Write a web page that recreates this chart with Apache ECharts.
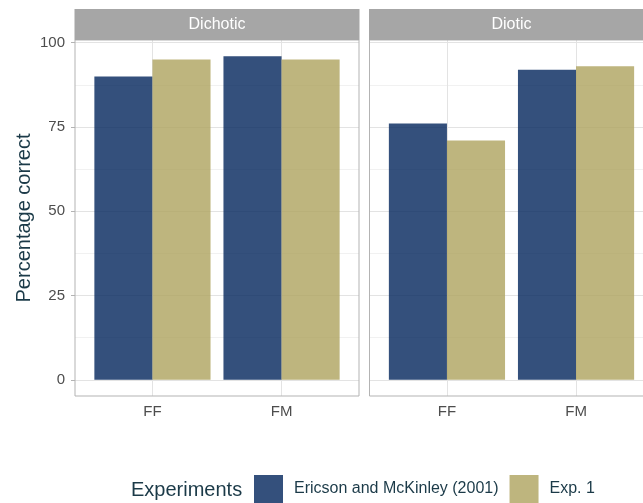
<!DOCTYPE html>
<html>
<head>
<meta charset="utf-8">
<script src="https://cdn.jsdelivr.net/npm/echarts@6/dist/echarts.min.js"></script>
<style>
html,body{margin:0;padding:0;background:#fff;}
#chart{width:643px;height:503px;}
</style>
</head>
<body>
<div id="chart"></div>
<script>
// ---- data ----
const facets = ['Dichotic', 'Diotic'];
const categories = ['FF', 'FM'];
const seriesNames = ['Ericson and McKinley (2001)', 'Exp. 1'];
const ericsonDichotic = [90, 96];
const exp1Dichotic = [95, 95];
const ericsonDiotic = [76, 92];
const exp1Diotic = [71, 93];
const yTicks = [0, 25, 50, 75, 100];

// ---- styling ----
const FONT = '"Liberation Sans", Arial, sans-serif';
const navy = 'rgba(1,36,91,0.8)';
const tan = 'rgba(174,162,94,0.8)';
const gridMajor = '#E3E3E3';
const gridMinor = '#F1F1F1';
const borderCol = '#B3B3B3';
const stripCol = '#A6A6A6';
const axisText = '#4D4D4D';
const titleCol = '#1B3A48';

const panelTop = 40, panelBottom = 396, panelW = 284;
const panelLefts = [75, 369.5];
const unit = panelW / 2.2;

// y range with ggplot-like 5% expansion
const dataMax = Math.max(...ericsonDichotic, ...exp1Dichotic, ...ericsonDiotic, ...exp1Diotic);
const yMin = -0.05 * dataMax, yMax = dataMax * 1.05;
const pxPerUnit = (panelBottom - panelTop) / (yMax - yMin);
const yTop = panelTop + (yMax - yTicks[yTicks.length - 1]) * pxPerUnit;
const yBottom = panelBottom - (yTicks[0] - yMin) * pxPerUnit;

const chart = echarts.init(document.getElementById('chart'), null, {renderer: 'canvas'});

const grids = [], xAxes = [], yAxes = [], series = [];
// frame grids (horizontal gridlines + y axis)
panelLefts.forEach((pl, i) => {
  grids.push({left: pl, width: panelW, top: yTop, height: yBottom - yTop});
  xAxes.push({type: 'value', gridIndex: i, show: false, min: 0, max: 1});
  yAxes.push({
    type: 'value', gridIndex: i, min: yTicks[0], max: yTicks[yTicks.length - 1], interval: 25,
    axisLine: {show: false},
    axisTick: {show: i === 0, length: 4, lineStyle: {color: borderCol, width: 1}},
    axisLabel: {show: i === 0, margin: 10, fontSize: 15, color: axisText, fontFamily: FONT},
    splitLine: {show: true, lineStyle: {color: gridMajor, width: 1}},
    minorTick: {show: false, splitNumber: 2},
    minorSplitLine: {show: true, lineStyle: {color: gridMinor, width: 1}}
  });
});
// data grids (full panel height, expanded y range)
const dataSets = [[ericsonDichotic, exp1Dichotic], [ericsonDiotic, exp1Diotic]];
panelLefts.forEach((pl, i) => {
  const gi = 2 + i;
  grids.push({left: pl + 0.1 * unit, width: 2 * unit, top: panelTop, height: panelBottom - panelTop});
  xAxes.push({
    type: 'category', gridIndex: gi, data: categories,
    axisLine: {show: false},
    axisTick: {show: true, alignWithLabel: true, length: 4, lineStyle: {color: borderCol}},
    axisLabel: {margin: 8, fontSize: 15, color: axisText, fontFamily: FONT},
    splitLine: {show: false}
  });
  yAxes.push({type: 'value', gridIndex: gi, min: yMin, max: yMax, show: false, splitLine: {show: false}});
  series.push({
    type: 'line', xAxisIndex: gi, yAxisIndex: gi, data: [null, null], z: 1, silent: true,
    showSymbol: false,
    markLine: {
      silent: true, symbol: 'none', label: {show: false}, z: 1,
      lineStyle: {color: gridMajor, width: 1, type: 'solid'},
      emphasis: {disabled: true},
      data: categories.map(c => ({xAxis: c}))
    }
  });
  dataSets[i].forEach((vals, k) => {
    series.push({
      name: seriesNames[k], type: 'bar', xAxisIndex: gi, yAxisIndex: gi, data: vals,
      barGap: '0%', barCategoryGap: '10%', z: 3,
      itemStyle: {color: k === 0 ? navy : tan},
      emphasis: {disabled: true}
    });
  });
});

const graphic = [];
panelLefts.forEach((pl, i) => {
  graphic.push({type: 'rect', z: 20, silent: true,
    shape: {x: pl, y: panelTop, width: panelW, height: panelBottom - panelTop},
    style: {fill: 'none', stroke: borderCol, lineWidth: 1}});
  graphic.push({type: 'rect', z: 20, silent: true,
    shape: {x: pl - 0.5, y: 9, width: panelW + 1, height: panelTop - 9},
    style: {fill: stripCol}});
  graphic.push({type: 'text', z: 21, silent: true, x: pl + panelW / 2, y: 25,
    style: {text: facets[i], fill: '#FFFFFF', font: '16px ' + FONT, align: 'center', verticalAlign: 'middle'}});
});
graphic.push({type: 'text', silent: true, x: 24, y: 218, rotation: Math.PI / 2,
  style: {text: 'Percentage correct', fill: titleCol, font: '20px ' + FONT, align: 'center', verticalAlign: 'middle'}});
graphic.push({type: 'text', silent: true, x: 131, y: 490,
  style: {text: 'Experiments', fill: titleCol, font: '20px ' + FONT, align: 'left', verticalAlign: 'middle'}});

chart.setOption({
  animation: false,
  grid: grids,
  xAxis: xAxes,
  yAxis: yAxes,
  series: series,
  graphic: graphic,
  legend: {
    data: seriesNames, left: 254, top: 475, orient: 'horizontal', padding: 0,
    itemWidth: 29, itemHeight: 28, itemGap: 11, icon: 'rect',
    textStyle: {fontSize: 16, color: titleCol, fontFamily: FONT, padding: [0, 0, 0, 6]},
    selectedMode: false
  }
});
</script>
</body>
</html>
